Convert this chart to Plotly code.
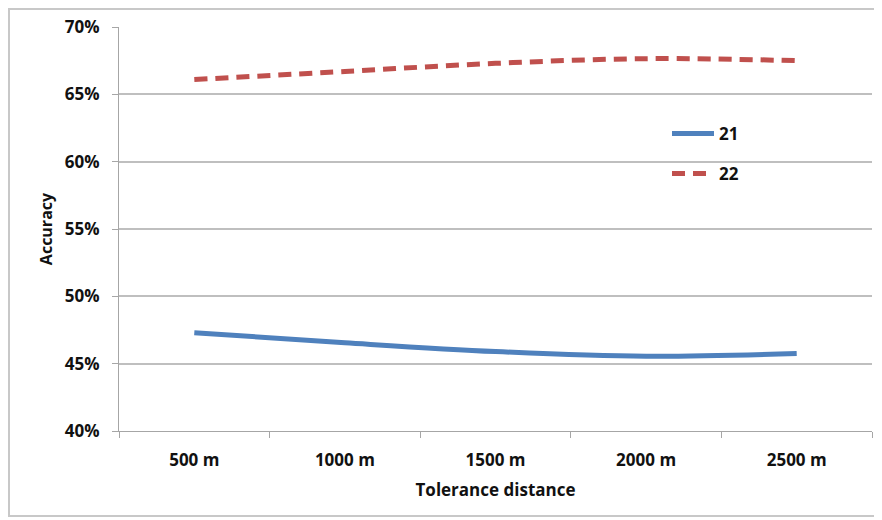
import plotly.graph_objects as go

categories = ["500 m", "1000 m", "1500 m", "2000 m", "2500 m"]
series_21 = [0.473, 0.4655, 0.459, 0.4555, 0.4575]
series_22 = [0.661, 0.667, 0.673, 0.6765, 0.675]

# The page body adds an 8px offset, so figure-pixel targets are screen - 8.
OFF = 8
W, H = 882, 520
L = 119 - OFF
T = 27 - OFF
R = W - (872 - OFF)
B = H - (431 - OFF)
pw, ph = W - L - R, H - T - B

def px_x(x):  # screen px -> paper
    return (x - OFF - L) / pw

def px_y(y):  # screen px -> paper
    return (H - B - (y - OFF)) / ph

font_family = "Open Sans"
grid_col = "#bfbfbf"

fig = go.Figure()
fig.add_trace(go.Scatter(
    x=categories, y=series_21, name="21", mode="lines",
    line=dict(color="#4F81BD", width=5, shape="spline"),
    legend="legend", showlegend=True,
))
fig.add_trace(go.Scatter(
    x=categories, y=series_22, name="22", mode="lines",
    line=dict(color="#C0504D", width=5, shape="spline", dash="13px,8px"),
    legend="legend2", showlegend=True,
))

leg_font = dict(size=17, family=font_family, weight="bold", color="#111111")
fig.update_layout(
    width=W, height=H,
    margin=dict(l=L, r=R, t=T, b=B, autoexpand=False),
    paper_bgcolor="white", plot_bgcolor="white",
    font=dict(family=font_family, size=17, color="#111111", weight="bold"),
    legend=dict(x=px_x(667), y=px_y(116), xanchor="left", yanchor="top",
                bgcolor="rgba(0,0,0,0)", font=leg_font, itemwidth=42),
    legend2=dict(x=px_x(667), y=px_y(156), xanchor="left", yanchor="top",
                 bgcolor="rgba(0,0,0,0)", font=leg_font, itemwidth=42),
    shapes=[dict(type="rect", xref="paper", yref="paper",
                 x0=px_x(9), x1=px_x(879), y0=px_y(516), y1=px_y(9),
                 line=dict(color="#c8c8c8", width=2), layer="below")],
)

fig.update_xaxes(
    type="category", range=[-0.5, 4.5], tickson="boundaries",
    showline=True, linecolor="#a6a6a6", linewidth=1,
    ticks="outside", ticklen=6, tickcolor="#a6a6a6",
    showgrid=False, zeroline=False, automargin=False,
    ticklabelstandoff=14,
    tickfont=dict(size=17, family=font_family, weight="bold"),
    title=dict(text="Tolerance distance", standoff=13,
               font=dict(size=17, family=font_family, weight="bold")),
)
fig.update_yaxes(
    range=[0.40, 0.70], dtick=0.05, tickformat=".0%",
    showline=True, linecolor="#a6a6a6", linewidth=1,
    ticks="outside", ticklen=6, tickcolor="#a6a6a6",
    showgrid=True, gridcolor=grid_col, gridwidth=1.5, zeroline=False,
    automargin=False,
    ticklabelstandoff=9,
    tickfont=dict(size=17, family=font_family, weight="bold"),
    title=dict(text="Accuracy", standoff=8,
               font=dict(size=16, family=font_family, weight="bold")),
)

fig.write_html("out.html")
